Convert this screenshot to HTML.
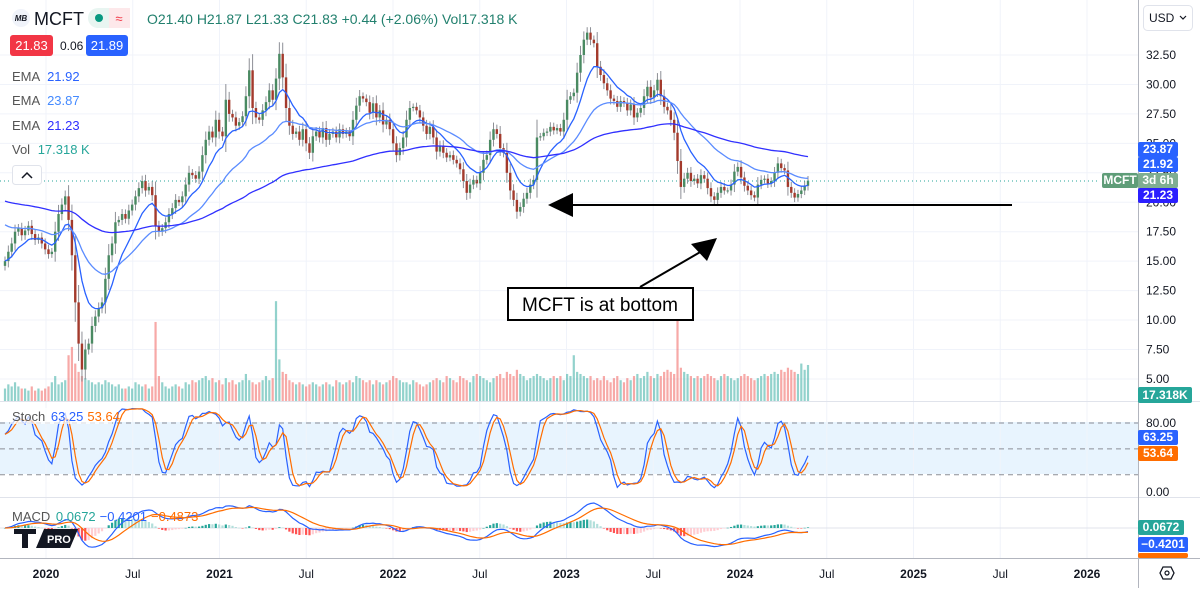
<!DOCTYPE html>
<html><head><meta charset="utf-8"><style>
body{margin:0;background:#fff;width:1200px;height:588px;overflow:hidden;font-family:"Liberation Sans",sans-serif}
svg text{font-family:"Liberation Sans",sans-serif}
</style></head><body>
<svg id="c" width="1200" height="588" viewBox="0 0 1200 588">
<rect x="0" y="0" width="1200" height="588" fill="#fff"/>
<rect x="0" y="422" width="1138" height="52" fill="rgba(33,150,243,0.1)"/>
<g id="grid"></g>
<g id="vol"></g>
<g id="candles"></g>
<g id="emas"></g>
<g id="stoch"></g>
<g id="macd"></g>
<line x1="0" y1="181" x2="1100" y2="181" stroke="#26a69a" stroke-dasharray="1,3" stroke-width="1"/>
<line x1="0" y1="401.5" x2="1200" y2="401.5" stroke="#e0e3eb"/>
<line x1="0" y1="497.5" x2="1200" y2="497.5" stroke="#e0e3eb"/>
<line x1="0" y1="558.5" x2="1200" y2="558.5" stroke="#b2b5be"/>
<line x1="1138.5" y1="0" x2="1138.5" y2="588" stroke="#b2b5be"/>
<g id="paxis"></g>
<g id="taxis"></g>

<line x1="560" y1="205" x2="1012" y2="205" stroke="#000" stroke-width="2"/>
<polygon points="548,205 573,193 573,217" fill="#000"/>
<line x1="640" y1="287" x2="702" y2="251" stroke="#000" stroke-width="2"/>
<polygon points="717,238 691,244 707,261" fill="#000"/>
<rect x="508" y="288" width="185" height="32" fill="#fff" stroke="#000" stroke-width="2"/>
<text x="600" y="311" font-size="19" text-anchor="middle" fill="#000">MCFT is at bottom</text>

<circle cx="21" cy="18" r="9" fill="#f0f3fa"/>
<text x="21" y="21" font-size="8" font-weight="bold" text-anchor="middle" fill="#131722" font-style="italic">MB</text>
<text x="34" y="25" font-size="18" fill="#131722">MCFT</text>
<rect x="88" y="8" width="42" height="20" rx="10" fill="#e8f5f1"/>
<rect x="109" y="8" width="21" height="20" rx="0" fill="#fde8ea"/>
<circle cx="99" cy="18" r="4" fill="#089981"/>
<text x="119" y="23" font-size="13" text-anchor="middle" fill="#f23645">≈</text>
<text x="147" y="24" font-size="14" fill="#22806e">O21.40  H21.87  L21.33  C21.83  +0.44 (+2.06%)  Vol17.318 K</text>
<rect x="10" y="35" width="43" height="21" rx="3" fill="#f23645"/>
<text x="31.5" y="50" font-size="13" fill="#fff" text-anchor="middle">21.83</text>
<text x="60" y="50" font-size="12" fill="#131722">0.06</text>
<rect x="86" y="35" width="42" height="21" rx="3" fill="#2962ff"/>
<text x="107" y="50" font-size="13" fill="#fff" text-anchor="middle">21.89</text>
<text x="12" y="81" font-size="13" fill="#555">EMA <tspan fill="#2962ff" dx="4">21.92</tspan></text>
<text x="12" y="105" font-size="13" fill="#555">EMA <tspan fill="#448aff" dx="4">23.87</tspan></text>
<text x="12" y="130" font-size="13" fill="#555">EMA <tspan fill="#3030ff" dx="4">21.23</tspan></text>
<text x="12" y="154" font-size="13" fill="#555">Vol <tspan fill="#26a69a" dx="4">17.318 K</tspan></text>
<rect x="12.5" y="165.5" width="29" height="19" rx="3" fill="#fff" stroke="#e0e3eb"/>
<path d="M22 178 L27 173 L32 178" fill="none" stroke="#131722" stroke-width="1.5"/>
<rect x="10" y="408" width="102" height="16" fill="rgba(255,255,255,0.7)"/>
<text x="12" y="421" font-size="13" fill="#555">Stoch <tspan fill="#2962ff" dx="2">63.25</tspan><tspan fill="#ff6d00" dx="4">53.64</tspan></text>
<text x="12" y="521" font-size="13" fill="#555">MACD <tspan fill="#26a69a" dx="2">0.0672</tspan><tspan fill="#2962ff" dx="4">−0.4201</tspan><tspan fill="#ff6d00" dx="4">−0.4873</tspan></text>
<g>
<rect x="14" y="529" width="22" height="5" fill="#131722"/><rect x="22" y="529" width="6" height="19" fill="#131722"/>
<polygon points="36,548 44,529 78,529 70,548" fill="#131722"/>
<text x="47" y="543" font-size="11" fill="#fff" font-weight="bold">PRO</text>
</g>
<rect x="1143.5" y="5.5" width="49" height="25" rx="4" fill="#fff" stroke="#e0e3eb"/>
<text x="1149" y="22" font-size="12" fill="#131722">USD</text>
<path d="M1180 16 L1183 19 L1186 16" fill="none" stroke="#131722" stroke-width="1.2"/>
<polygon points="1160,573 1163,567 1171,567 1174,573 1171,579 1163,579" fill="none" stroke="#131722" stroke-width="1.3"/>
<circle cx="1167" cy="573" r="2" fill="none" stroke="#131722" stroke-width="1.2"/>
<g id="labels"></g>
</svg>
<script>
const closes = [15.0,15.8,16.5, 17.5,17.8,17.2, 17.6,18.0,17.3, 16.8,17.0,16.5, 16.0,15.6,15.8, 17.5,19.0,19.8, 20.5,18.5,15.5, 11.5,8.0,5.8, 7.5,8.0,9.5, 10.3,11.0,11.5,
13.5,15.5,16.5, 18.3,18.5,19.0, 18.6,19.3,19.8, 20.5,21.2,21.8, 21.0,21.3,20.6, 18.0,17.5,17.8, 18.3,19.0,19.5, 20.2,20.0,20.5, 21.5,22.5,22.3, 22.0,22.6,24.0,
25.3,26.0,25.5, 27.0,26.0,25.6, 28.7,27.5,27.2, 26.5,26.8,27.3, 29.0,31.2,28.0, 27.2,27.0,27.8, 28.5,29.5,28.7, 30.5,32.6,30.6, 28.0,26.5,25.8, 26.0,25.3,26.2,
25.0,24.2,25.6, 26.0,25.5,26.3, 25.3,25.8,26.0, 25.5,26.2,25.8, 26.0,25.6,27.0, 28.2,29.0,28.8, 28.5,27.6,28.4, 27.2,27.8,26.6, 27.0,26.2,25.0, 24.0,24.6,25.5,
27.0,28.0,28.1, 27.8,27.2,26.5, 25.8,26.4,25.5, 24.3,24.8,24.2, 23.8,24.0,23.6, 23.3,22.8,21.8, 20.8,21.5,21.9, 21.6,22.5,23.6, 24.0,25.3,26.2, 25.8,24.6,24.2,
22.5,21.0,20.2, 19.2,19.6,20.3, 20.8,21.5,21.9, 25.5,25.6,25.9, 26.0,26.4,26.1, 26.3,26.0,27.0, 28.7,29.0,29.3, 31.0,32.5,33.8, 34.4,33.8,33.5, 31.5,30.8,30.1,
29.5,28.8,28.6, 28.1,28.6,28.4, 27.8,28.3,27.2, 27.6,28.0,29.0, 29.8,28.9,29.5, 30.4,29.0,28.1, 27.8,27.0,25.9, 23.5,21.3,22.0, 22.5,21.8,22.0, 21.6,22.3,22.0,
21.2,20.5,20.2, 20.8,21.3,21.0, 21.0,21.5,22.6, 23.0,22.1,21.4, 21.0,20.6,20.4, 21.5,21.9,22.0, 21.6,21.8,22.5, 23.3,22.9,22.7, 21.3,20.8,20.4, 20.7,21.0,21.4,
21.83];
const volumes = [6,8,7, 9,7,6, 6,5,7, 5,6,5, 6,7,9, 12,8,9, 10,22,26, 18,14,12, 11,10,9, 8,9,8,
10,9,8, 7,8,6, 6,7,6, 9,8,7, 8,6,7, 38,12,9, 7,6,7, 8,7,6, 9,8,10, 9,10,11,
12,10,11, 9,10,8, 11,9,10, 8,9,10, 13,10,9, 8,9,10, 12,10,11, 48,20,14, 13,10,9, 8,9,8,
7,8,9, 8,7,8, 9,8,7, 10,9,8, 9,10,9, 12,11,10, 9,10,8, 10,9,8, 9,10,12, 11,10,9,
9,8,10, 9,8,7, 8,9,10, 11,10,9, 12,11,10, 9,12,11, 10,9,12, 13,12,11, 10,9,11, 12,13,11,
14,13,12, 15,13,12, 10,11,12, 13,12,11, 10,11,12, 11,12,10, 13,12,22, 14,13,12, 11,12,10, 11,10,12,
10,9,11, 12,10,9, 11,10,12, 13,11,12, 14,12,11, 13,12,14, 15,14,13, 42,16,14, 13,12,11, 12,11,12,
13,12,11, 10,12,13, 12,11,10, 11,12,13, 12,11,10, 11,12,13, 12,13,14, 13,15,14, 16,15,14, 13,18,15,
17.318];
const priceTicks = [32.5,30,27.5,25,22.5,20,17.5,15,12.5,10,7.5,5];
const stochTicks = [80,0];
const timeLabels = ["2020","Jul","2021","Jul","2022","Jul","2023","Jul","2024","Jul","2025","Jul","2026"];
const timeLabelPos = [0,0.5,1,1.5,2,2.5,3,3.5,4,4.5,5,5.5,6];
const emaPeriods = [10,30,100];
const emaSeeds = [15.0,18.3,20.2];
const emaColors = ["#2962ff","#5b8cff","#3030ff"];

const NS="http://www.w3.org/2000/svg";
function mk(tag,attrs,parent){const e=document.createElementNS(NS,tag);for(const k in attrs)e.setAttribute(k,attrs[k]);parent.appendChild(e);return e;}
const N=closes.length;
const X0=5, X1=808, step=(X1-X0)/(N-1);
const xOf=i=>X0+i*step;
const yP=p=>55+(32.5-p)*11.78;
const yS=v=>492-v*0.8625;
const yearX=t=>46+t*173.5;
const VOLBASE=401, volK=2.08;

const opens=closes.map((c,i)=>i?closes[i-1]:c-0.4);
const highs=closes.map((c,i)=>Math.max(c,opens[i])+0.25+0.35*Math.abs(c-opens[i]));
const lows=closes.map((c,i)=>Math.min(c,opens[i])-0.25-0.35*Math.abs(c-opens[i]));

const grid=document.getElementById('grid');
priceTicks.forEach(p=>{const l=mk('line',{x1:0,x2:1138,y1:yP(p),y2:yP(p),stroke:'#f0f3fa'},grid);

});
timeLabelPos.forEach(t=>{const l=mk('line',{x1:yearX(t),x2:yearX(t),y1:0,y2:558,stroke:'#f0f3fa'},grid);

});
[80,50,20].forEach(v=>{const l=mk('line',{x1:0,x2:1138,y1:yS(v),y2:yS(v),stroke:'#8a8d96','stroke-dasharray':'5,4'},grid);

});
{const l=mk('line',{x1:0,x2:1138,y1:528,y2:528,stroke:'#e0e3eb'},grid);

}

const vg=document.getElementById('vol');
volumes.forEach((v,i)=>{const up=closes[i]>=opens[i];const h=v*volK;
const r=mk('rect',{x:xOf(i)-1.1,y:VOLBASE-h,width:2.2,height:h,fill:up?'rgba(38,166,154,0.5)':'rgba(239,83,80,0.5)'},vg);

});

const cg=document.getElementById('candles');
closes.forEach((c,i)=>{const o=opens[i];const up=c>=o;const x=xOf(i);
const w=mk('line',{x1:x,x2:x,y1:yP(highs[i]),y2:yP(lows[i]),stroke:'#8d8f96','stroke-width':1},cg);


const t=Math.min(yP(o),yP(c)),h=Math.max(1,Math.abs(yP(o)-yP(c)));
const b=mk('rect',{x:x-1.2,y:t,width:2.4,height:h,fill:up?'#4a8a62':'#a33a2c'},cg);

});

function ema(arr,n,seed){const k=2/(n+1);let e=seed;return arr.map(v=>(e=v*k+e*(1-k)));}
const eg=document.getElementById('emas');
emaPeriods.forEach((n,j)=>{const e=ema(closes,n,emaSeeds[j]);
const p=mk('polyline',{points:e.map((v,i)=>xOf(i).toFixed(1)+','+yP(v).toFixed(1)).join(' '),fill:'none',stroke:emaColors[j],'stroke-width':1.3},eg);

});

const rawK=closes.map((c,i)=>{const s=Math.max(0,i-13);const hh=Math.max(...highs.slice(s,i+1)),ll=Math.min(...lows.slice(s,i+1));return hh>ll?100*(c-ll)/(hh-ll):50;});
const sma=(a,n)=>a.map((v,i)=>{const s=Math.max(0,i-n+1);const sl=a.slice(s,i+1);return sl.reduce((x,y)=>x+y,0)/sl.length;});
const kLine=sma(rawK,2), dLine=sma(kLine,3);
const sg=document.getElementById('stoch');
[[kLine,'#2962ff','stoch-k-line'],[dLine,'#ff6d00','stoch-d-line']].forEach(([a,col,nm])=>{
const p=mk('polyline',{points:a.map((v,i)=>xOf(i).toFixed(1)+','+yS(v).toFixed(1)).join(' '),fill:'none',stroke:col,'stroke-width':1.2},sg);

});

const e12=ema(closes,12,closes[0]),e26=ema(closes,26,closes[0]);
const macd=e12.map((v,i)=>v-e26[i]);const sig=ema(macd,9,macd[0]);const hist=macd.map((v,i)=>v-sig[i]);
const mx=Math.max(...macd.map(Math.abs),...sig.map(Math.abs));const mk2=25/mx;const yM=v=>528-v*mk2;
const mg=document.getElementById('macd');
hist.forEach((h,i)=>{const prev=i?hist[i-1]:0;let col;
if(h>=0)col=h>=prev?'#26a69a':'#b2dfdb';else col=h<prev?'#ff5252':'#ffcdd2';
const r=mk('rect',{x:xOf(i)-1.1,y:Math.min(yM(h),528),width:2.2,height:Math.max(0.5,Math.abs(yM(h)-528)),fill:col},mg);

});
[[macd,'#2962ff','macd-line'],[sig,'#ff6d00','signal-line']].forEach(([a,col,nm])=>{
const p=mk('polyline',{points:a.map((v,i)=>xOf(i).toFixed(1)+','+yM(v).toFixed(1)).join(' '),fill:'none',stroke:col,'stroke-width':1.2},mg);

});

const pa=document.getElementById('paxis');
priceTicks.forEach(p=>{const t=mk('text',{x:1146,y:yP(p)+4,'font-size':12,fill:'#131722'},pa);t.textContent=p.toFixed(2);

});
stochTicks.forEach(v=>{const t=mk('text',{x:1146,y:yS(v)+4,'font-size':12,fill:'#131722'},pa);t.textContent=v.toFixed(2);

});
const ta=document.getElementById('taxis');
timeLabels.forEach((s,i)=>{const t=mk('text',{x:yearX(timeLabelPos[i]),y:578,'font-size':12,fill:'#131722','text-anchor':'middle','font-weight':s.length===4?'bold':'normal'},ta);t.textContent=s;

});

const lg=document.getElementById('labels');
function box(x,y,w,h,fill,txt,name){const g=mk('g',{},lg);


mk('rect',{x:x,y:y,width:w,height:h,fill:fill,rx:2},g);const t=mk('text',{x:x+w/2,y:y+h-4,'font-size':12,fill:'#fff','text-anchor':'middle','font-weight':'bold'},g);t.textContent=txt;}
box(1138,142,40,15,'#2962ff','23.87','ema2-price-label');
box(1138,157,40,15,'#2962ff','21.92','ema1-price-label');
box(1102,173,36,15,'#5f9d78','MCFT','symbol-price-label');
box(1138,173,40,15,'#7fae92','3d 6h','bar-countdown-label');
box(1138,188,40,15,'#2b1fff','21.23','ema3-price-label');
box(1138,387,54,16,'#26a69a','17.318K','volume-value-label');
box(1138,430,40,15,'#2962ff','63.25','stoch-k-label');
box(1138,446,40,15,'#ff6d00','53.64','stoch-d-label');
box(1138,520,46,15,'#26a69a','0.0672','macd-hist-label');
box(1138,537,50,15,'#2962ff','−0.4201','macd-line-label');
box(1138,553,50,5,'#ff6d00','','signal-line-label');
</script>
</body></html>
